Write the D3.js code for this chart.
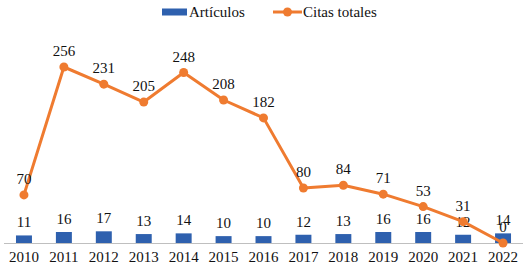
<!DOCTYPE html>
<html>
<head>
<meta charset="utf-8">
<script src="https://cdn.jsdelivr.net/npm/d3@7"></script>
</head>
<body style="margin:0; background:#fff">
<svg width="530" height="271"></svg>
<script>
const years = ["2010","2011","2012","2013","2014","2015","2016","2017","2018","2019","2020","2021","2022"];
const articulos = [11, 16, 17, 13, 14, 10, 10, 12, 13, 16, 16, 12, 14];
const citas = [70, 256, 231, 205, 248, 208, 182, 80, 84, 71, 53, 31, 0];

const svg = d3.select("svg");
const blue = "#2E60AE", orange = "#EF7B30";

// serif labels, set on each text element
const label = sel => sel
  .attr("font-family", "Liberation Serif")
  .attr("font-size", 15)
  .attr("fill", "#111");

const x = d3.scaleBand().domain(years).range([4, 523]).paddingInner(0.6).paddingOuter(0.3);
const xc = d => x(d) + x.bandwidth() / 2;
const y = d3.scaleLinear().domain([0, 300]).range([243, 36.75]);

// baseline
svg.append("line")
  .attr("x1", 4).attr("x2", 523)
  .attr("y1", y(0) + 0.5).attr("y2", y(0) + 0.5)
  .attr("stroke", "#bfbfbf").attr("stroke-width", 1);

// bars
svg.selectAll("rect.bar")
  .data(years)
  .join("rect")
  .attr("class", "bar")
  .attr("x", d => x(d))
  .attr("width", x.bandwidth())
  .attr("y", (d, i) => y(articulos[i]))
  .attr("height", (d, i) => y(0) - y(articulos[i]))
  .attr("fill", blue);

svg.selectAll("text.barlab")
  .data(years)
  .join("text")
  .attr("class", "barlab")
  .attr("x", d => xc(d))
  .attr("y", (d, i) => y(articulos[i]) - 8)
  .attr("text-anchor", "middle")
  .call(label)
  .text((d, i) => articulos[i]);

// line
const line = d3.line().x((d, i) => xc(years[i])).y(d => y(d));
svg.append("path")
  .datum(citas)
  .attr("d", line)
  .attr("fill", "none")
  .attr("stroke", orange)
  .attr("stroke-width", 3)
  .attr("stroke-linejoin", "round");

svg.selectAll("circle.pt")
  .data(citas)
  .join("circle")
  .attr("class", "pt")
  .attr("cx", (d, i) => xc(years[i]))
  .attr("cy", d => y(d))
  .attr("r", 4.5)
  .attr("fill", orange);

svg.selectAll("text.linelab")
  .data(citas)
  .join("text")
  .attr("class", "linelab")
  .attr("x", (d, i) => xc(years[i]))
  .attr("y", d => y(d) - 11)
  .attr("text-anchor", "middle")
  .call(label)
  .text(d => d);

// x axis labels
svg.selectAll("text.year")
  .data(years)
  .join("text")
  .attr("class", "year")
  .attr("x", d => xc(d))
  .attr("y", 262)
  .attr("text-anchor", "middle")
  .call(label)
  .text(d => d);

// legend
const legend = svg.append("g");
legend.append("rect")
  .attr("x", 162).attr("y", 8.5).attr("width", 25).attr("height", 7)
  .attr("fill", blue);
legend.append("text")
  .attr("x", 189).attr("y", 17)
  .call(label)
  .text("Artículos");
legend.append("line")
  .attr("x1", 273).attr("x2", 302).attr("y1", 12).attr("y2", 12)
  .attr("stroke", orange).attr("stroke-width", 3);
legend.append("circle")
  .attr("cx", 287.5).attr("cy", 12).attr("r", 4.5)
  .attr("fill", orange);
legend.append("text")
  .attr("x", 303).attr("y", 17)
  .call(label)
  .text("Citas totales");
</script>
</body>
</html>
